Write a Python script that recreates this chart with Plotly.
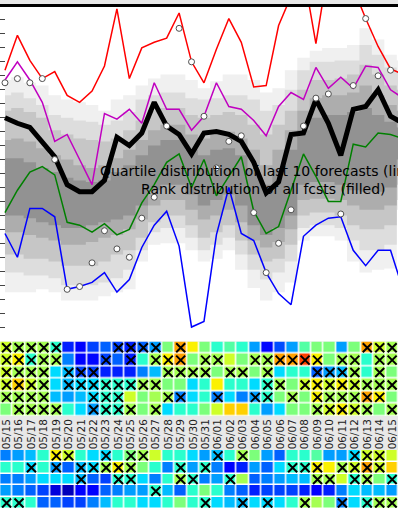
import plotly.graph_objects as go

# ---------------- data ----------------
dates = ["05/15","05/16","05/17","05/18","05/19","05/20","05/21","05/22","05/23","05/24",
         "05/25","05/26","05/27","05/28","05/29","05/30","05/31","06/01","06/02","06/03",
         "06/04","06/05","06/06","06/07","06/08","06/09","06/10","06/11","06/12","06/13",
         "06/14","06/15"]

# quartile lines of last 10 forecasts (33 points, last one just beyond the visible edge)
fc_max = [19.4, 21.9, 20.1, 18.8, 19.3, 17.6, 17.1, 17.9, 19.7, 23.8, 18.8, 21.0, 21.4, 21.7, 23.5, 20.0,
          18.5, 20.9, 23.1, 21.4, 18.2, 18.3, 22.6, 24.7, 26.4, 21.3, 26.8, 25.9, 25.3, 23.1, 21.1, 19.5, 19.1]
fc_q75 = [18.7, 20.0, 18.7, 17.1, 14.3, 14.8, 13.0, 11.2, 16.3, 15.9, 16.6, 15.6, 18.5, 16.6, 16.6, 15.1,
          16.1, 18.5, 16.8, 16.6, 15.8, 14.7, 16.8, 17.8, 17.3, 19.6, 18.1, 18.9, 18.1, 19.7, 19.6, 18.0, 17.4]
fc_med = [16.0, 15.6, 15.3, 14.3, 13.2, 11.2, 10.7, 10.7, 11.5, 14.6, 14.0, 14.9, 17.1, 15.4, 14.8, 13.4,
          14.9, 15.0, 14.8, 14.3, 12.8, 10.6, 11.4, 14.8, 14.9, 17.3, 15.6, 13.3, 16.6, 16.8, 18.0, 16.1, 15.6]
fc_q25 = [9.2, 10.8, 12.1, 12.5, 11.9, 8.5, 8.3, 7.8, 8.4, 7.6, 8.0, 9.9, 11.2, 12.8, 13.4, 11.0,
          13.0, 10.4, 11.8, 13.2, 9.3, 7.7, 8.2, 10.8, 13.4, 11.8, 10.0, 10.0, 14.1, 13.9, 14.9, 14.8, 14.5]
fc_min = [7.7, 6.0, 9.5, 9.5, 8.9, 3.7, 3.9, 4.2, 4.9, 3.5, 4.4, 6.7, 8.3, 9.3, 6.8, 1.0,
          1.4, 7.6, 11.0, 7.7, 7.2, 4.9, 3.4, 2.6, 7.5, 8.3, 8.8, 8.9, 6.5, 5.4, 6.5, 6.5, 3.7]
observed = [18.5, 18.8, 18.5, 18.8, 13.0, 3.7, 3.9, 5.6, 7.9, 6.6, 6.0, 8.8, 10.3, 15.4, 22.4, 20.0,
            16.1, 12.4, 14.3, 14.7, 9.2, 4.9, 7.0, 9.4, 15.4, 17.4, 17.7, 9.1, 18.3, 23.1, 19.0, 19.4]

# rank distribution of all forecasts (filled bands, outer -> inner)
band1_lo = [3.5, 3.5, 3.5, 3.7, 3.5, 2.9, 2.9, 2.9, 3.2, 3.5, 3.7, 5.7, 6.9, 7.0, 7.0, 6.5,
            5.7, 5.9, 6.5, 5.1, 3.8, 2.9, 3.5, 4.2, 7.2, 7.5, 7.5, 7.2, 5.7, 4.9, 5.1, 5.2, 9.4]
band1_hi = [18.7, 18.9, 18.5, 18.3, 17.6, 17.3, 17.1, 16.9, 16.5, 17.3, 17.6, 18.3, 18.8, 19.1, 19.1, 18.7,
            18.1, 18.6, 19.1, 19.1, 18.7, 17.8, 18.1, 19.4, 20.3, 20.8, 21.0, 21.0, 21.2, 22.4, 21.6, 20.5, 20.1]
band2_lo = [4.9, 4.9, 4.7, 4.7, 4.5, 4.0, 4.0, 4.0, 4.2, 4.5, 5.1, 6.5, 7.8, 8.1, 8.1, 7.4,
            6.5, 6.9, 7.4, 6.2, 5.1, 4.4, 4.9, 5.7, 8.1, 8.3, 8.3, 8.1, 7.2, 6.5, 6.5, 6.9, 10.1]
band2_hi = [17.6, 17.8, 17.4, 16.9, 16.2, 16.0, 15.8, 15.7, 15.5, 15.8, 16.4, 17.3, 17.6, 17.8, 17.8, 17.4,
            17.3, 17.4, 17.6, 17.6, 17.3, 16.5, 16.9, 18.0, 19.4, 20.0, 20.0, 20.1, 20.1, 21.2, 20.5, 19.6, 19.3]
band3_lo = [6.2, 6.2, 5.9, 5.9, 5.7, 5.4, 5.4, 5.4, 5.7, 6.2, 6.5, 7.4, 8.5, 9.0, 9.0, 8.3,
            7.4, 7.8, 8.3, 7.2, 6.2, 5.7, 5.9, 6.9, 9.0, 9.2, 9.2, 9.0, 8.3, 8.0, 8.0, 8.3, 11.2]
band3_hi = [16.5, 16.7, 16.4, 16.0, 15.1, 14.8, 14.5, 14.4, 14.3, 14.5, 15.1, 15.8, 16.5, 16.7, 16.7, 16.2,
            16.0, 16.2, 16.4, 16.2, 15.5, 14.8, 15.5, 16.5, 18.0, 18.7, 18.7, 18.8, 19.1, 19.8, 19.1, 18.3, 18.0]
band4_lo = [7.8, 7.8, 7.6, 7.4, 7.2, 6.9, 6.9, 7.1, 7.4, 7.6, 8.0, 8.7, 9.7, 10.1, 10.1, 9.4,
            8.7, 9.0, 9.4, 8.5, 7.2, 6.7, 7.1, 8.0, 10.1, 10.2, 10.2, 10.1, 9.7, 9.4, 9.4, 9.7, 12.2]
band4_hi = [14.4, 14.5, 14.3, 13.8, 13.3, 13.0, 12.6, 12.4, 12.6, 13.1, 13.7, 14.4, 15.1, 15.5, 15.5, 14.8,
            14.5, 14.8, 15.0, 14.5, 13.7, 12.6, 13.7, 15.1, 16.5, 17.4, 17.6, 17.6, 17.8, 18.3, 17.6, 16.9, 16.5]
band5_lo = [9.0, 9.0, 8.8, 8.5, 8.3, 8.1, 8.1, 8.3, 8.5, 8.7, 9.0, 9.7, 10.8, 11.2, 11.2, 10.5,
            9.7, 10.1, 10.5, 9.7, 8.3, 7.6, 8.1, 9.0, 11.2, 11.4, 11.4, 11.2, 10.8, 10.7, 10.7, 11.0, 13.0]
band5_hi = [13.1, 13.1, 12.8, 12.4, 12.1, 11.7, 11.5, 11.4, 11.5, 12.1, 12.6, 13.3, 14.0, 14.4, 14.4, 13.7,
            13.3, 13.7, 13.8, 13.3, 12.3, 11.2, 12.3, 13.7, 15.1, 16.0, 16.2, 16.2, 16.4, 16.7, 16.2, 15.7, 15.3]
band_colors = ["#f0f0f0", "#dddddd", "#c6c6c6", "#adadad", "#929292"]

# upper rank table (6 rows, values on a 0..1 jet scale)
heat_top = [
    [0.60, 0.55, 0.55, 0.55, 0.40, 0.155, 0.12, 0.19, 0.22, 0.19, 0.155, 0.22, 0.28, 0.50, 0.74, 0.655,
     0.50, 0.40, 0.45, 0.40, 0.28, 0.13, 0.20, 0.28, 0.45, 0.50, 0.50, 0.28, 0.50, 0.74, 0.60, 0.55],
    [0.60, 0.655, 0.40, 0.55, 0.55, 0.25, 0.12, 0.13, 0.19, 0.22, 0.155, 0.40, 0.55, 0.655, 0.74, 0.50,
     0.55, 0.55, 0.60, 0.50, 0.55, 0.55, 0.74, 0.74, 0.84, 0.655, 0.50, 0.55, 0.55, 0.40, 0.55, 0.55],
    [0.60, 0.55, 0.55, 0.55, 0.34, 0.31, 0.19, 0.19, 0.155, 0.155, 0.155, 0.25, 0.31, 0.55, 0.55, 0.55,
     0.55, 0.50, 0.55, 0.55, 0.50, 0.55, 0.34, 0.40, 0.40, 0.22, 0.28, 0.31, 0.55, 0.40, 0.55, 0.50],
    [0.60, 0.69, 0.60, 0.55, 0.34, 0.31, 0.34, 0.34, 0.40, 0.40, 0.40, 0.55, 0.55, 0.50, 0.50, 0.34,
     0.40, 0.655, 0.40, 0.40, 0.34, 0.40, 0.55, 0.50, 0.60, 0.655, 0.60, 0.655, 0.60, 0.55, 0.55, 0.55],
    [0.55, 0.55, 0.55, 0.55, 0.31, 0.28, 0.31, 0.34, 0.40, 0.40, 0.60, 0.50, 0.55, 0.55, 0.25, 0.34,
     0.40, 0.25, 0.34, 0.25, 0.28, 0.40, 0.50, 0.55, 0.50, 0.655, 0.55, 0.55, 0.55, 0.74, 0.655, 0.50],
    [0.50, 0.55, 0.55, 0.55, 0.55, 0.40, 0.34, 0.28, 0.40, 0.40, 0.55, 0.50, 0.55, 0.34, 0.40, 0.40,
     0.50, 0.60, 0.69, 0.69, 0.40, 0.28, 0.34, 0.50, 0.50, 0.55, 0.60, 0.655, 0.60, 0.55, 0.50, 0.55],
]
cross_top_cols = [
    [0, 1, 2, 3, 4, 9, 10, 11, 12, 14, 29, 30, 31],
    [0, 1, 2, 3, 4, 8, 10, 12, 13, 14, 16, 17, 20, 21, 22, 23, 24, 25, 27, 28, 30, 31],
    [0, 1, 2, 3, 5, 6, 7, 13, 14, 15, 16, 18, 19, 21, 25, 26, 27, 28, 30],
    [0, 1, 2, 3, 5, 6, 7, 8, 9, 10, 11, 12, 21, 22, 24, 25, 26, 27, 28, 29, 30, 31],
    [0, 1, 2, 3, 7, 8, 9, 13, 14, 17, 20, 21, 23, 25, 26, 27, 28, 29, 30],
    [1, 2, 3, 4, 7, 8, 9, 10, 12, 25, 26, 27, 28, 29, 31],
]

# lower rank table (5 rows, last one partly visible)
heat_bot = [
    [0.25, 0.28, 0.31, 0.40, 0.655, 0.60, 0.40, 0.34, 0.34, 0.40, 0.50, 0.55, 0.60, 0.40, 0.40, 0.34,
     0.28, 0.31, 0.40, 0.55, 0.50, 0.28, 0.22, 0.40, 0.40, 0.45, 0.28, 0.28, 0.34, 0.60, 0.60, 0.60],
    [0.40, 0.40, 0.34, 0.40, 0.28, 0.22, 0.31, 0.34, 0.55, 0.655, 0.55, 0.50, 0.40, 0.25, 0.40, 0.28,
     0.40, 0.25, 0.12, 0.155, 0.28, 0.22, 0.34, 0.40, 0.40, 0.655, 0.655, 0.55, 0.60, 0.74, 0.60, 0.69],
    [0.25, 0.25, 0.28, 0.34, 0.34, 0.34, 0.31, 0.22, 0.19, 0.40, 0.40, 0.34, 0.25, 0.40, 0.55, 0.40,
     0.25, 0.28, 0.40, 0.55, 0.22, 0.25, 0.28, 0.31, 0.31, 0.55, 0.55, 0.60, 0.40, 0.55, 0.50, 0.40],
    [0.28, 0.25, 0.22, 0.19, 0.08, 0.05, 0.12, 0.12, 0.22, 0.25, 0.28, 0.28, 0.40, 0.31, 0.22, 0.40,
     0.50, 0.40, 0.25, 0.22, 0.155, 0.19, 0.19, 0.19, 0.155, 0.12, 0.155, 0.25, 0.34, 0.31, 0.31, 0.28],
    [0.40, 0.40, 0.40, 0.22, 0.22, 0.19, 0.19, 0.25, 0.31, 0.40, 0.40, 0.34, 0.34, 0.40, 0.50, 0.40,
     0.40, 0.34, 0.31, 0.31, 0.34, 0.34, 0.34, 0.40, 0.55, 0.55, 0.50, 0.25, 0.34, 0.40, 0.55, 0.55],
]
cross_bot_cols = [
    [4, 5, 8, 10, 11, 17, 19, 28, 29, 30],
    [2, 4, 6, 7, 8, 9, 10, 14, 16, 23, 24, 25, 27, 28, 29, 30],
    [6, 9, 10, 14, 15, 18, 25, 26, 28, 29, 31],
    [12],
    [0, 1, 16, 19, 21, 24, 27, 29, 30, 31],
]

annotation_text = "Quartile distribution of last 10 forecasts (lines)<br>Rank distribution of all fcsts (filled)"

# ---------------- figure ----------------
W, H = 398, 508
jet = [[0.0, "rgb(0,0,128)"], [0.11, "rgb(0,0,255)"], [0.125, "rgb(0,0,255)"],
       [0.34, "rgb(0,219,255)"], [0.35, "rgb(0,230,247)"], [0.375, "rgb(21,255,226)"],
       [0.64, "rgb(239,255,8)"], [0.65, "rgb(247,245,0)"], [0.66, "rgb(255,236,0)"],
       [0.89, "rgb(255,19,0)"], [0.91, "rgb(232,0,0)"], [1.0, "rgb(128,0,0)"]]

def py(p):  # pixel row from top -> paper fraction
    return 1 - p / H

fig = go.Figure()
xline = list(range(len(fc_max)))

bands = [(band1_lo, band1_hi), (band2_lo, band2_hi), (band3_lo, band3_hi),
         (band4_lo, band4_hi), (band5_lo, band5_hi)]
for (lo, hi), col in zip(bands, band_colors):
    fig.add_trace(go.Scatter(x=xline, y=lo, mode="lines", line=dict(width=0, shape="hvh"),
                             hoverinfo="skip", showlegend=False, xaxis="x", yaxis="y"))
    fig.add_trace(go.Scatter(x=xline, y=hi, mode="lines", line=dict(width=0, shape="hvh"),
                             fill="tonexty", fillcolor=col, hoverinfo="skip",
                             showlegend=False, xaxis="x", yaxis="y"))

for ys, col, w in [(fc_min, "#0000ff", 1.5), (fc_q25, "#008000", 1.5), (fc_med, "#000000", 5),
                   (fc_q75, "#c000c0", 1.5), (fc_max, "#ff0000", 1.5)]:
    fig.add_trace(go.Scatter(x=xline, y=ys, mode="lines", line=dict(color=col, width=w),
                             showlegend=False, xaxis="x", yaxis="y"))

fig.add_trace(go.Scatter(x=list(range(len(observed))), y=observed, mode="markers",
                         marker=dict(symbol="circle", size=6, color="white",
                                     line=dict(color="#505050", width=1)),
                         showlegend=False, xaxis="x", yaxis="y"))

ncol = len(dates)
fig.add_trace(go.Heatmap(z=heat_top, x=list(range(ncol)), y=list(range(len(heat_top))),
                         colorscale=jet, zmin=0, zmax=1, showscale=False, xgap=1.5, ygap=1.5,
                         xaxis="x2", yaxis="y2"))
cx, cy = [], []
for r, cols in enumerate(cross_top_cols):
    for c in cols:
        cx.append(c); cy.append(r)
fig.add_trace(go.Scatter(x=cx, y=cy, mode="markers",
                         marker=dict(symbol="x-thin", size=9, line=dict(color="black", width=2)),
                         showlegend=False, xaxis="x2", yaxis="y2"))

fig.add_trace(go.Heatmap(z=heat_bot, x=list(range(ncol)), y=list(range(len(heat_bot))),
                         colorscale=jet, zmin=0, zmax=1, showscale=False, xgap=1.5, ygap=1.5,
                         xaxis="x3", yaxis="y3"))
bx, by = [], []
for r, cols in enumerate(cross_bot_cols):
    for c in cols:
        bx.append(c); by.append(r)
fig.add_trace(go.Scatter(x=bx, y=by, mode="markers",
                         marker=dict(symbol="x-thin", size=9, line=dict(color="black", width=2)),
                         showlegend=False, xaxis="x3", yaxis="y3"))

top_dom = [py(341), py(6)]
h1_dom = [py(416), py(341.5)]
h2_dom = [0, py(450)]

fig.update_layout(
    width=W, height=H, autosize=False,
    margin=dict(l=0, r=0, t=0, b=0, pad=0),
    paper_bgcolor="#e8e8e8", plot_bgcolor="white",
    font=dict(family="DejaVu Sans", color="#111111"),
    xaxis=dict(domain=[0, 1], range=[-0.4, 31.6], visible=False, fixedrange=True),
    yaxis=dict(domain=top_dom, range=[0, 24], tickmode="linear", tick0=0, dtick=1,
               ticks="inside", ticklen=5, tickcolor="#444444", showticklabels=False,
               showgrid=False, zeroline=False, showline=True, linecolor="#a0a0a0", linewidth=1),
    xaxis2=dict(domain=[0, 1], range=[-0.53, 31.47], anchor="y2", showgrid=False, zeroline=False,
                tickmode="array", tickvals=list(range(ncol)), ticktext=dates, tickangle=-90,
                ticks="", side="bottom", tickfont=dict(size=10.5, color="#222222")),
    yaxis2=dict(domain=h1_dom, range=[5.5, -0.5], anchor="x2", visible=False),
    xaxis3=dict(domain=[0, 1], range=[-0.53, 31.47], anchor="y3", visible=False),
    yaxis3=dict(domain=h2_dom, range=[4.42, -0.5], anchor="x3", visible=False),
    shapes=[dict(type="line", xref="paper", yref="paper", x0=0, x1=1, y0=py(5.5), y1=py(5.5),
                 line=dict(color="black", width=3))],
    annotations=[dict(text=annotation_text, xref="paper", yref="paper", x=263 / W, y=py(180),
                      xanchor="center", yanchor="middle", showarrow=False, align="center",
                      font=dict(size=14, color="black", family="DejaVu Sans"))],
)

fig.write_html("out.html", config={"displayModeBar": False},
               post_script="document.body.style.margin='0';")
